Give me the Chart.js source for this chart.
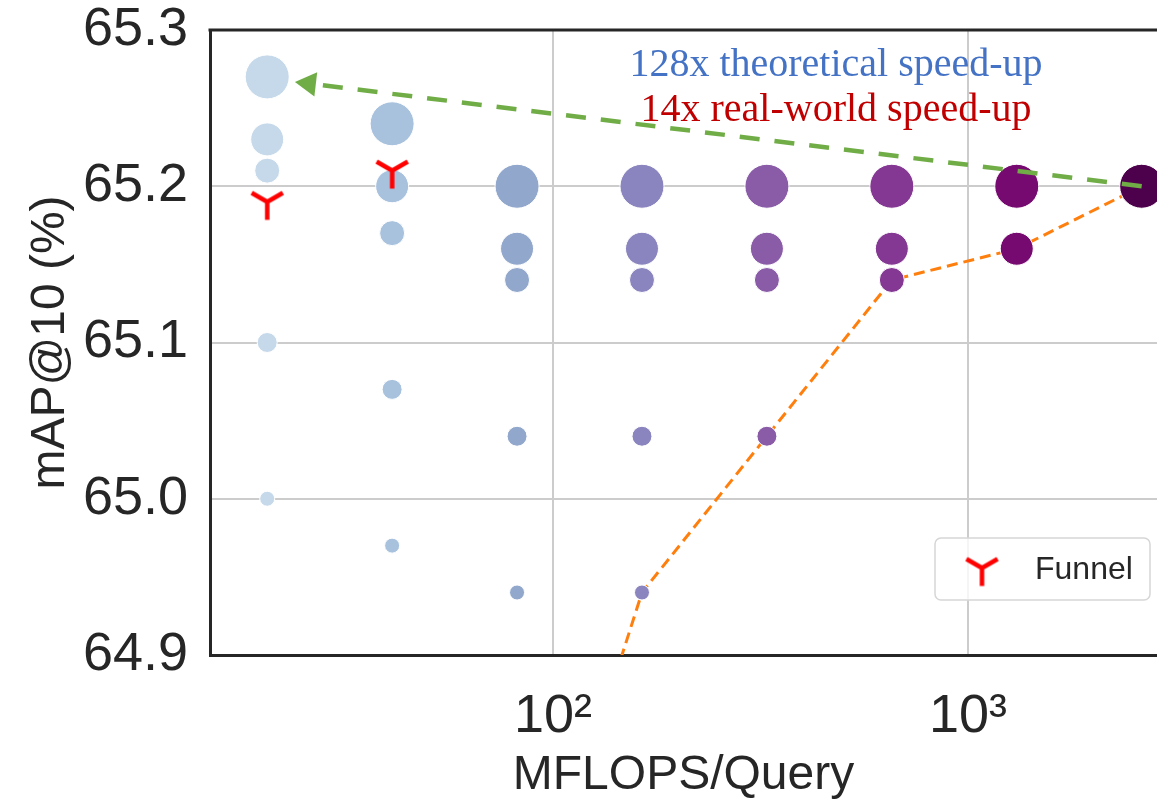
<!DOCTYPE html>
<html>
<head>
<meta charset="utf-8">
<script src="https://cdn.jsdelivr.net/npm/chart.js@4"></script>
<style>
  html, body { margin: 0; padding: 0; background: #fff; overflow: hidden; }
  #wrap { position: relative; width: 1157px; height: 805px; }
</style>
</head>
<body>
<div id="wrap"><canvas id="chart"></canvas></div>
<script>
// MFLOPS per query for each configuration column
const flops = [20.48, 40.96, 81.92, 163.84, 327.68, 655.36, 1310.72, 2621.44];

// mAP@10 values for every column (top to bottom)
const map20 = [65.27, 65.23, 65.21, 65.10, 65.00];
const map40 = [65.24, 65.20, 65.17, 65.07, 64.97];
const map80 = [65.20, 65.16, 65.14, 65.04, 64.94];
const map160 = [65.20, 65.16, 65.14, 65.04, 64.94];
const map320 = [65.20, 65.16, 65.14, 65.04];
const map640 = [65.20, 65.16, 65.14];
const map1280 = [65.20, 65.16];
const map2560 = [65.20];
const mapColumns = [map20, map40, map80, map160, map320, map640, map1280, map2560];

// Funnel baseline
const funnelFlops = [20.48, 40.96];
const funnelMap = [65.19, 65.21];

// orange dashed frontier
const frontierFlops = [81.92, 163.84, 327.68, 655.36, 1310.72, 2621.44];
const frontierMap = [64.69, 64.94, 65.04, 65.14, 65.16, 65.20];

// green arrow (start -> head)
const arrowFlops = [2621.44, 25.8];
const arrowMap = [65.20, 65.2657];

const xTicks = [100, 1000];
const xTickLabels = ["10²", "10³"];
const yTicks = [64.9, 65.0, 65.1, 65.2, 65.3];

// styles
const colColors = ["#c6d9ea", "#a8c2de", "#91a7cc", "#8a85be", "#8a5ca8", "#843893", "#760a70", "#4d004b"];
const rowRadius = [22, 16.5, 12.5, 10, 7.5];
const textColor = "#262626";
const sans = "'Liberation Sans', Arial, sans-serif";

// Y-shaped "tri_down" marker drawn onto a small canvas
function makeTriDown(color, arm, lw) {
  const size = Math.ceil(2 * (arm + lw));
  const c = document.createElement("canvas");
  c.width = size; c.height = size;
  const g = c.getContext("2d");
  const m = size / 2;
  g.strokeStyle = color;
  g.lineWidth = lw;
  g.beginPath();
  g.moveTo(m, m); g.lineTo(m, m + arm);
  g.moveTo(m, m); g.lineTo(m - arm * Math.cos(Math.PI / 6), m - arm * Math.sin(Math.PI / 6));
  g.moveTo(m, m); g.lineTo(m + arm * Math.cos(Math.PI / 6), m - arm * Math.sin(Math.PI / 6));
  g.stroke();
  return c;
}
const triMarker = makeTriDown("#ff0000", 18, 4.5);

const datasets = [];

// green arrow on top
datasets.push({
  type: "scatter",
  data: arrowFlops.map((x, i) => ({ x, y: arrowMap[i] })),
  showLine: true,
  borderColor: "#70ad47",
  borderWidth: 4.5,
  borderDash: [20, 15],
  pointRadius: [0, 14],
  pointStyle: "triangle",
  rotation: [0, 276.7],
  pointBackgroundColor: "#70ad47",
  pointBorderWidth: 0,
  order: 0
});

datasets.push({
  type: "scatter",
  data: funnelFlops.map((x, i) => ({ x, y: funnelMap[i] })),
  pointStyle: triMarker,
  order: 1
});

mapColumns.forEach((col, c) => {
  datasets.push({
    type: "scatter",
    data: col.map(y => ({ x: flops[c], y })),
    pointRadius: col.map((_, r) => rowRadius[r]),
    backgroundColor: colColors[c],
    pointBorderColor: "#ffffff",
    pointBorderWidth: 1,
    order: 2
  });
});

datasets.push({
  type: "scatter",
  data: frontierFlops.map((x, i) => ({ x, y: frontierMap[i] })),
  showLine: true,
  borderColor: "#ff7f0e",
  borderWidth: 3,
  borderDash: [11, 6],
  pointRadius: 0,
  order: 3
});

// frame, annotations and legend box
const extras = {
  id: "extras",
  afterDraw(chart) {
    const ctx = chart.ctx;
    const a = chart.chartArea;
    ctx.save();
    // top spine
    ctx.strokeStyle = textColor;
    ctx.lineWidth = 3;
    ctx.beginPath();
    ctx.moveTo(a.left - 1.5, a.top);
    ctx.lineTo(a.right, a.top);
    ctx.stroke();

    // speed-up notes
    ctx.font = "40px 'Liberation Serif', 'Times New Roman', serif";
    ctx.textAlign = "center";
    ctx.textBaseline = "alphabetic";
    ctx.fillStyle = "#4472c4";
    ctx.fillText("128x theoretical speed-up", 836, 76);
    ctx.fillStyle = "#c00000";
    ctx.fillText("14x real-world speed-up", 836, 121);

    // legend
    const bx = 935, by = 538, bw = 215, bh = 62;
    ctx.beginPath();
    ctx.roundRect(bx, by, bw, bh, 6);
    ctx.fillStyle = "rgba(255,255,255,0.8)";
    ctx.fill();
    ctx.strokeStyle = "#d6d6d6";
    ctx.lineWidth = 1.5;
    ctx.stroke();
    ctx.drawImage(triMarker, 982 - triMarker.width / 2, 568 - triMarker.height / 2);
    ctx.font = "32px " + sans;
    ctx.fillStyle = textColor;
    ctx.textAlign = "left";
    ctx.textBaseline = "middle";
    ctx.fillText("Funnel", 1035, 570);
    ctx.restore();
  }
};

// fixed axis boxes so the plot area sits where it does in the figure
function noPad(s) {
  s.paddingTop = 0; s.paddingBottom = 0; s.paddingLeft = 0; s.paddingRight = 0;
}

new Chart(document.getElementById("chart"), {
  type: "scatter",
  data: { datasets },
  options: {
    responsive: true,
    maintainAspectRatio: false,
    animation: false,
    events: [],
    layout: { autoPadding: false, padding: { top: 30, right: 0, left: 0, bottom: 0 } },
    plugins: { legend: { display: false }, tooltip: { enabled: false } },
    scales: {
      x: {
        type: "logarithmic",
        min: 14.91,
        max: 2854,
        afterBuildTicks: s => { s.ticks = xTicks.map(v => ({ value: v })); },
        afterFit: s => { s.height = 150; noPad(s); },
        ticks: {
          color: textColor,
          font: { size: 54, family: sans },
          padding: 30,
          maxRotation: 0,
          callback: (v) => xTickLabels[xTicks.indexOf(v)] || ""
        },
        grid: { color: "#cccccc", lineWidth: 2, drawTicks: false },
        border: { color: textColor, width: 3 },
        title: {
          display: true,
          text: "MFLOPS/Query",
          color: textColor,
          font: { size: 48, family: sans },
          padding: { top: 0, bottom: 0 }
        }
      },
      y: {
        min: 64.9,
        max: 65.3,
        afterBuildTicks: s => { s.ticks = yTicks.map(v => ({ value: v })); },
        afterFit: s => { s.width = 210; noPad(s); },
        ticks: {
          color: textColor,
          font: { size: 54, family: sans },
          padding: 22,
          callback: v => v.toFixed(1)
        },
        grid: { color: "#cccccc", lineWidth: 2, drawTicks: false },
        border: { color: textColor, width: 3 },
        title: {
          display: true,
          text: "mAP@10 (%)",
          color: textColor,
          font: { size: 48, family: sans },
          padding: { top: 22, bottom: 0 }
        }
      }
    }
  },
  plugins: [extras]
});
</script>
</body>
</html>
